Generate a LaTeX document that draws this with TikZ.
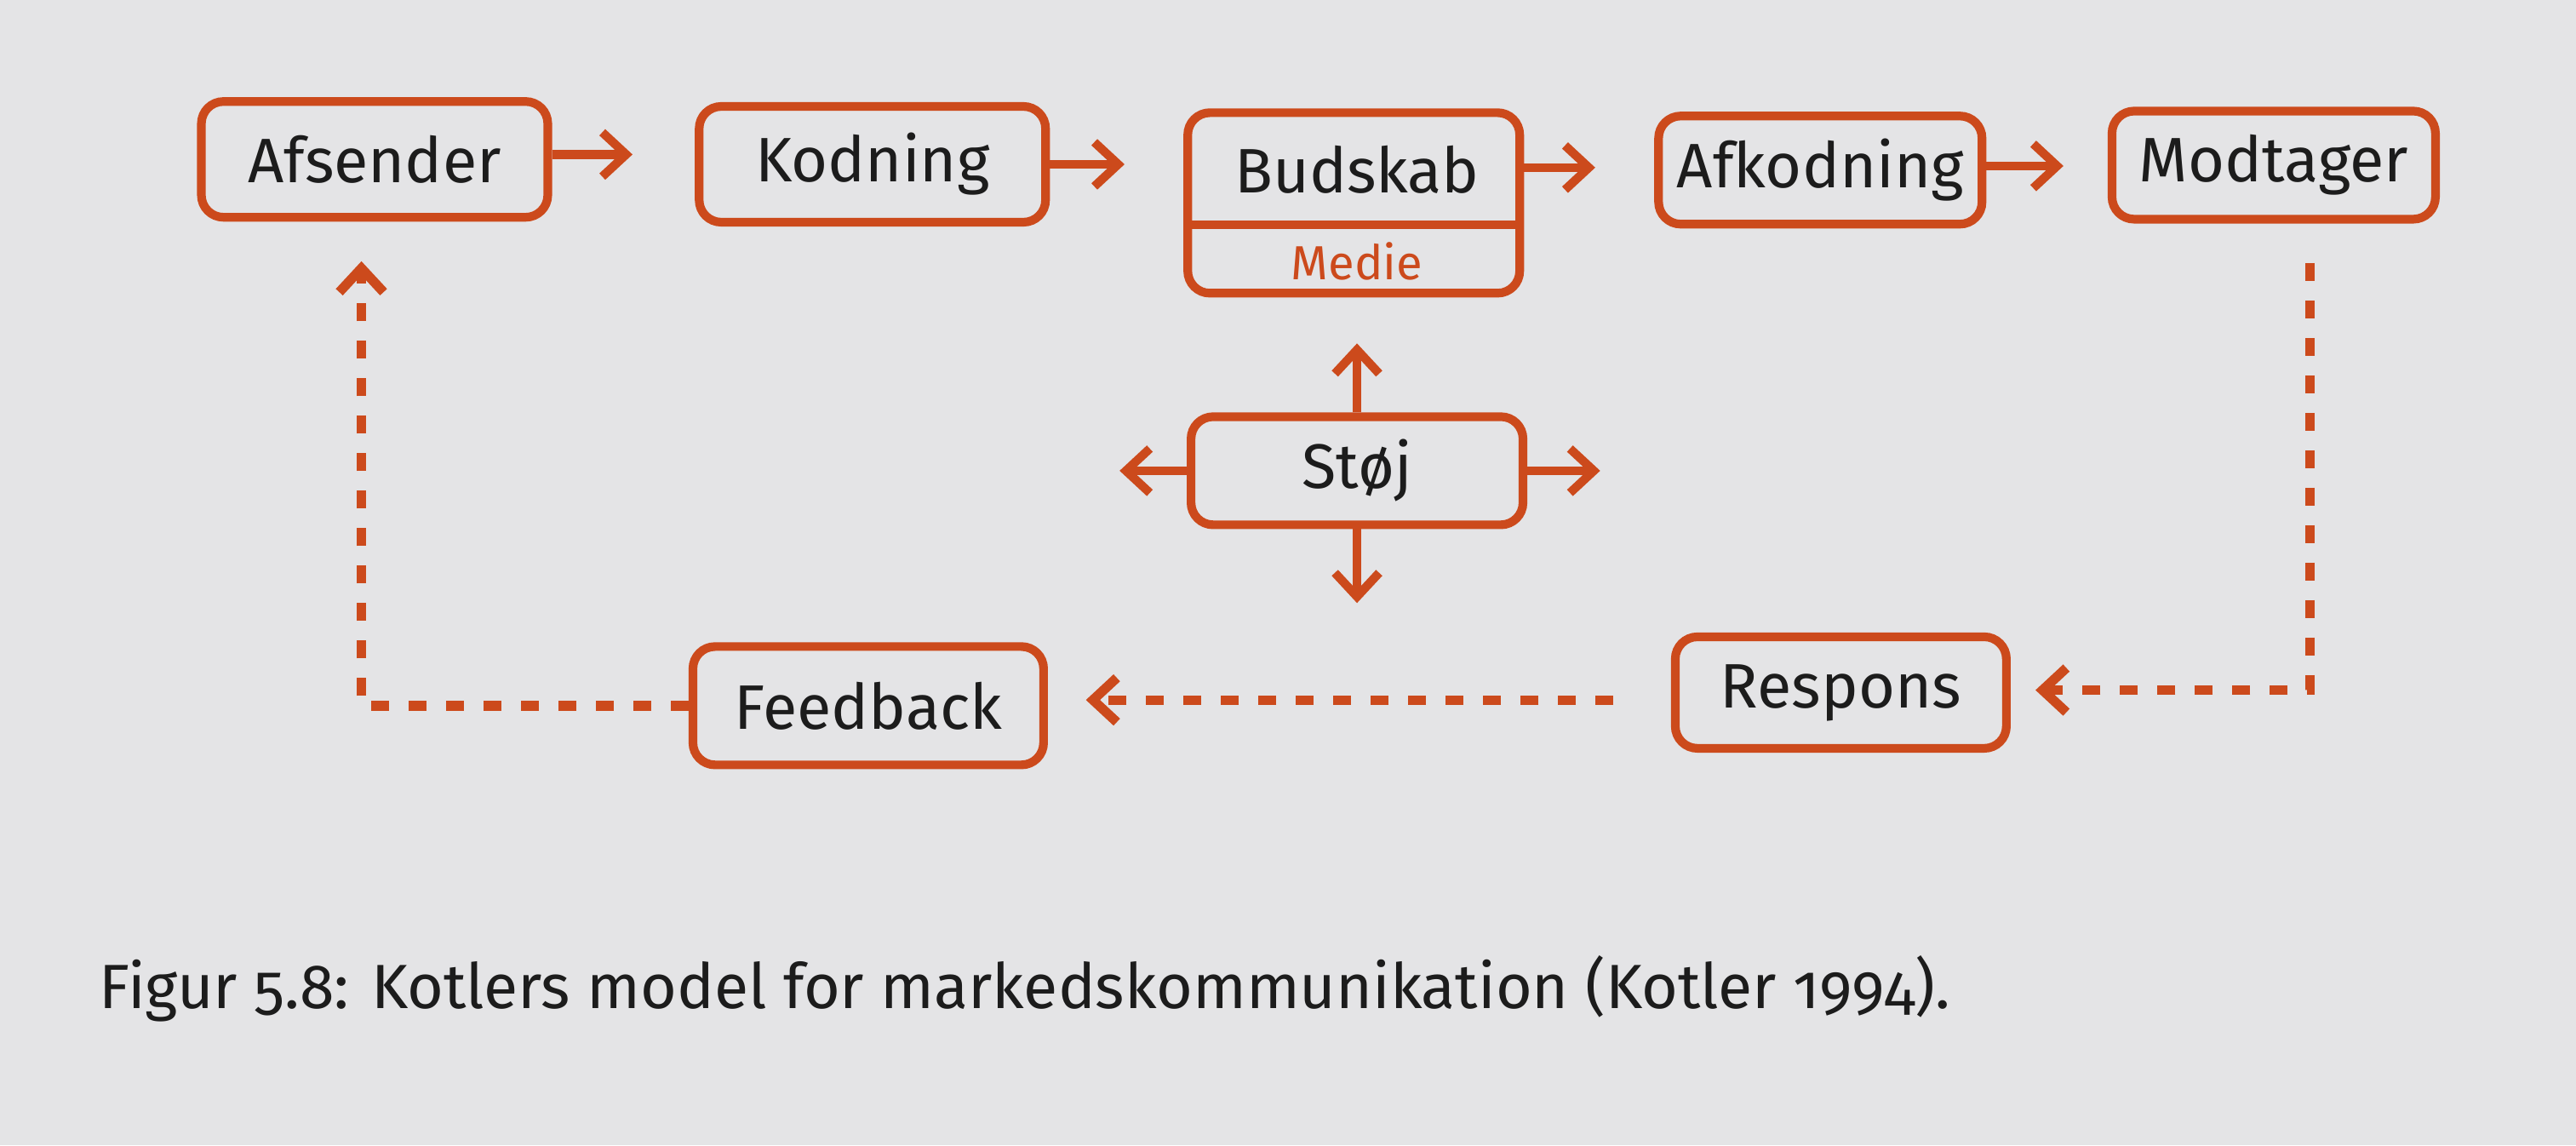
\documentclass[tikz,border=0pt]{standalone}
\usepackage{fontspec}
\setmainfont{Fira Sans}[Numbers=OldStyle]
\usetikzlibrary{arrows.meta,calc}
\definecolor{orng}{HTML}{CC4A1C}
\definecolor{paper}{HTML}{E4E4E6}
\definecolor{ink}{HTML}{1C1C1C}
\begin{document}
\begin{tikzpicture}[x=0.0193cm,y=-0.0193cm,
  box/.style={draw=orng, line width=2.9pt, rounded corners=0.26cm, inner sep=0pt,
    font=\fontsize{21}{24}\selectfont, text=ink},
  lbl/.style={inner sep=0pt, font=\fontsize{21}{24}\selectfont, text=ink},
  arr/.style={draw=orng, line width=2.9pt, -{Straight Barb[length=0.28cm,width=0.52cm]}},
  dsh/.style={draw=orng, line width=3.2pt, dash pattern=on 0.21cm off 0.23cm,
    -{Straight Barb[length=0.28cm,width=0.52cm]}}]
\fill[paper] (0,0) rectangle (1568,697);
\useasboundingbox (0,0) rectangle (1568,697);
% top row
\node[box, minimum width=4.07cm, minimum height=1.36cm] (afs) at (228,97) {Afsender};
\node[box, minimum width=4.07cm, minimum height=1.36cm] (kod) at (531,100) {Kodning};
\node[box, minimum width=3.90cm, minimum height=2.12cm] (bud) at (824,123.5) {};
\node[lbl] (budtxt) at (826,103) {Budskab};
\node[lbl, font=\fontsize{16}{19}\selectfont, text=orng] (medie) at (826,159) {Medie};
\coordinate (divy) at (0,137);
\draw[orng, line width=2.9pt] (bud.west |- divy) -- (bud.east |- divy);
\node[box, minimum width=3.80cm, minimum height=1.27cm] (afk) at (1108,103.5) {Afkodning};
\node[box, minimum width=3.80cm, minimum height=1.27cm] (mod) at (1384,100.5) {Modtager};
% middle
\node[box, minimum width=3.90cm, minimum height=1.27cm] (stoej) at (826,286.5) {Støj};
% bottom row
\node[box, minimum width=3.89cm, minimum height=1.31cm] (res) at (1120.5,421.5) {Respons};
\node[box, minimum width=4.12cm, minimum height=1.39cm] (fb) at (528.5,429.5) {Feedback};
% free ends
\coordinate (t1) at (385,94);
\coordinate (t2) at (684.5,100);
\coordinate (t3) at (971,102);
\coordinate (t4) at (1256,101);
\coordinate (sup) at (826,209);
\coordinate (sdn) at (826,367);
\coordinate (slt) at (681.5,286.5);
\coordinate (srt) at (974,286.5);
\coordinate (m0) at (1406,160);
\coordinate (r1) at (1239,420);
\coordinate (r2) at (982,426);
\coordinate (f1) at (661,426);
\coordinate (a0) at (220,159);
% solid arrows
\draw[arr] (afs.east |- t1) -- (t1);
\draw[arr] (kod.east |- t2) -- (t2);
\draw[arr] (bud.east |- t3) -- (t3);
\draw[arr] (afk.east |- t4) -- (t4);
\draw[arr] (stoej.north) -- (sup);
\draw[arr] (stoej.south) -- (sdn);
\draw[arr] (stoej.west) -- (slt);
\draw[arr] (stoej.east) -- (srt);
% dashed feedback loop
\draw[dsh] (m0) |- (r1);
\draw[dsh] (r2) -- (f1);
\draw[dsh] (fb.west) -| (a0);
% caption
\node[anchor=base west, inner sep=0pt, font=\fontsize{20.9}{24}\selectfont, text=ink] (cap) at (60,614)
  {Figur 5.8: Kotlers model for markedskommunikation (Kotler 1994).};
\end{tikzpicture}
\end{document}
